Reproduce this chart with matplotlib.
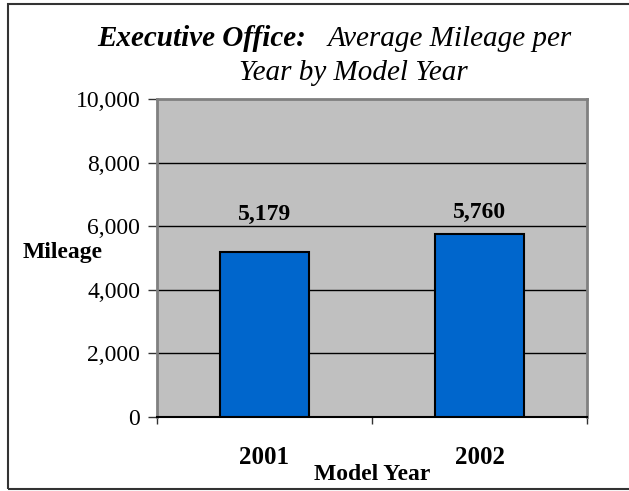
import matplotlib
matplotlib.use("Agg")
import matplotlib.pyplot as plt
from matplotlib.patches import Rectangle
from matplotlib.ticker import FuncFormatter

# Data
model_years = ["2001", "2002"]
avg_mileage = [5179, 5760]
label_offsets_pt = [23, 11.5]  # vertical offset of value labels above bar tops
y_ticks = [0, 2000, 4000, 6000, 8000, 10000]

W, H, DPI = 629, 491, 100
serif = ["Liberation Serif", "DejaVu Serif"]
plt.rcParams["font.family"] = serif

fig = plt.figure(figsize=(W / DPI, H / DPI), dpi=DPI)
fig.patch.set_facecolor("white")

# Outer chart frame
fig.patches.append(Rectangle((8 / W, 1 - 489 / H), 1.2, (489 - 4) / H,
                             transform=fig.transFigure, fill=False,
                             edgecolor="#333333", linewidth=1.5, zorder=0))

ax = fig.add_axes([157 / W, 1 - 417 / H, (587 - 157) / W, (417 - 99) / H])
ax.set_facecolor("#C0C0C0")

x = list(range(len(model_years)))
ax.bar(x, avg_mileage, width=0.41, color="#0066CC", edgecolor="black",
       linewidth=1.5, zorder=3)

ax.set_xlim(-0.5, len(model_years) - 0.5)
ax.set_ylim(0, 10000)

ax.set_yticks(y_ticks)
ax.yaxis.set_major_formatter(FuncFormatter(lambda v, p: f"{int(v):,}"))
ax.tick_params(axis="y", length=6.5, width=1, pad=5.5, labelsize=17,
               color="#333333")
for v in y_ticks[1:-1]:
    ax.axhline(v, color="black", linewidth=1, zorder=1)

# Category labels centred under bars; tick marks at category boundaries
ax.set_xticks(x)
ax.set_xticklabels(model_years, fontsize=18, fontweight="bold")
ax.tick_params(axis="x", which="major", length=0, pad=21)
ax.set_xticks([-0.5, 0.5, 1.5], minor=True)
ax.tick_params(axis="x", which="minor", length=5, width=1, color="#333333")

for side in ("top", "right", "left"):
    ax.spines[side].set_color("#808080")
    ax.spines[side].set_linewidth(2)
ax.spines["bottom"].set_color("black")
ax.spines["bottom"].set_linewidth(1.5)

for xi, val, off in zip(x, avg_mileage, label_offsets_pt):
    ax.annotate(f"{val:,}", xy=(xi, val), xytext=(0, off),
                textcoords="offset points", ha="center", va="baseline",
                fontsize=17, fontweight="bold")

fig.text(372 / W, 1 - 480 / H, "Model Year", ha="center", va="baseline",
         fontsize=17, fontweight="bold")
fig.text(23 / W, 1 - 258 / H, "Mileage", ha="left", va="baseline",
         fontsize=17, fontweight="bold")

# Two-line title: bold-italic lead-in followed by italic text
fig.canvas.draw()
renderer = fig.canvas.get_renderer()
t1 = fig.text(97 / W, 1 - 46 / H, "Executive Office:", ha="left",
              va="baseline", fontsize=21, fontweight="bold", style="italic")
ext = t1.get_window_extent(renderer)
fig.text((ext.x1 + 22) / W, 1 - 46 / H, "Average Mileage per", ha="left",
         va="baseline", fontsize=21, style="italic")
fig.text(353 / W, 1 - 80 / H, "Year by Model Year", ha="center",
         va="baseline", fontsize=21, style="italic")

fig.savefig("out.png", dpi=DPI)
